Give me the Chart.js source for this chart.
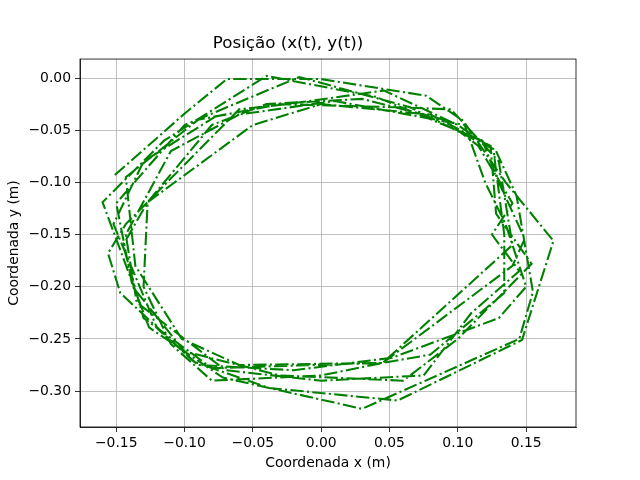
<!DOCTYPE html>
<html>
<head>
<meta charset="utf-8">
<script src="https://cdn.jsdelivr.net/npm/chart.js@4.4.1/dist/chart.umd.min.js"></script>
<style>
html,body{margin:0;padding:0;background:#fff;}
#wrap{width:640px;height:480px;position:relative;}
</style>
</head>
<body>
<div id="wrap"><canvas id="c" width="640" height="480"></canvas></div>
<script>
const xValues = [
  -0.151,-0.099,-0.069,0.000,0.077,0.104,0.135,0.170,0.147,0.056,-0.038,-0.093,-0.147,-0.156,
  -0.143,-0.060,-0.025,0.046,0.100,0.128,0.143,0.155,0.145,0.030,-0.072,-0.126,
  -0.160,-0.115,-0.040,0.040,0.118,0.130,0.149,0.140,0.045,-0.080,-0.130,-0.145,
  -0.127,-0.050,0.000,0.080,0.124,0.128,0.154,0.100,0.060,-0.030,-0.100,-0.138,-0.150,
  -0.100,-0.016,0.065,0.126,0.134,0.134,0.080,0.045,-0.060,-0.102,-0.136,-0.143,
  -0.090,-0.030,0.055,0.095,0.130,0.140,0.045,0.000,-0.080,-0.110,-0.130,-0.127,-0.080,-0.040,
  0.030,0.090,0.115,0.140,0.125,0.145,0.110,0.075,0.000,-0.070,-0.095,-0.135,-0.143,-0.110,-0.060,
  0.010,0.105,0.120,0.135,0.150,0.130,0.052,-0.020,-0.090,-0.120,-0.152,-0.130,-0.075
];
const yValues = [
  -0.093,-0.033,-0.001,-0.001,-0.017,-0.041,-0.100,-0.156,-0.251,-0.309,-0.297,-0.272,-0.206,-0.168,
  -0.140,-0.030,-0.025,-0.012,-0.045,-0.070,-0.113,-0.205,-0.250,-0.317,-0.287,-0.239,
  -0.119,-0.060,0.002,-0.018,-0.060,-0.100,-0.154,-0.180,-0.273,-0.278,-0.230,-0.160,
  -0.119,-0.045,-0.025,-0.035,-0.065,-0.130,-0.178,-0.250,-0.290,-0.285,-0.262,-0.200,-0.120,
  -0.045,0.001,-0.028,-0.068,-0.150,-0.206,-0.265,-0.273,-0.275,-0.250,-0.180,-0.095,
  -0.040,-0.025,-0.028,-0.030,-0.080,-0.160,-0.273,-0.285,-0.290,-0.255,-0.200,-0.119,-0.045,-0.025,
  -0.020,-0.040,-0.065,-0.120,-0.150,-0.185,-0.225,-0.285,-0.290,-0.280,-0.255,-0.215,-0.150,-0.070,-0.035,
  -0.022,-0.045,-0.100,-0.140,-0.200,-0.230,-0.268,-0.280,-0.275,-0.240,-0.140,-0.080,-0.035
];
const xTicks = [-0.15,-0.10,-0.05,0.00,0.05,0.10,0.15];
const yTicks = [-0.30,-0.25,-0.20,-0.15,-0.10,-0.05,0.00];
const titleText = 'Posição (x(t), y(t))';
const xLabel = 'Coordenada x (m)';
const yLabel = 'Coordenada y (m)';

const points = xValues.map((x,i)=>({x:x,y:yValues[i]}));
const fmt = v => { const s = Math.abs(v).toFixed(2); return (v < -1e-9 ? '\u2212' : '') + s; };
const FONT = 'DejaVu Sans';

const frame = {
  id:'frame',
  afterDatasetsDraw(chart){
    const a = chart.chartArea, ctx = chart.ctx;
    ctx.save();
    ctx.strokeStyle = '#000';
    ctx.lineWidth = 0.8;
    ctx.strokeRect(a.left, a.top, a.right-a.left, a.bottom-a.top);
    ctx.restore();
  }
};

new Chart(document.getElementById('c'), {
  type:'scatter',
  data:{datasets:[{
    data:points,
    showLine:true,
    borderColor:'#008000',
    borderWidth:2.08,
    borderDash:[13.3,3.3,2.1,3.3],
    pointRadius:0,
    tension:0,
    fill:false
  }]},
  options:{
    responsive:false,
    devicePixelRatio:1,
    animation:false,
    layout:{padding:{left:0,right:64,top:0,bottom:0}},
    plugins:{
      legend:{display:false},
      tooltip:{enabled:false},
      title:{display:true,text:titleText,color:'#000',
        font:{family:FONT,size:16.7,weight:'normal',lineHeight:1.2},
        padding:{top:34,bottom:5}}
    },
    scales:{
      x:{type:'linear',min:-0.1765,max:0.1865,
        afterBuildTicks(s){ s.ticks = xTicks.map(v=>({value:v})); },
        afterFit(s){ s.height = 53; },
        grid:{color:'#b0b0b0',lineWidth:0.8,tickColor:'#000',tickLength:5,drawTicks:true},
        border:{display:true,color:'#000',width:0.8},
        ticks:{color:'#000',font:{family:FONT,size:13.9},padding:3,maxRotation:0,autoSkip:false,
          callback:v=>fmt(v)},
        title:{display:true,text:xLabel,color:'#000',font:{family:FONT,size:13.9,lineHeight:1.2},padding:{top:0,bottom:8}}
      },
      y:{type:'linear',min:-0.3344,max:0.0182,
        afterBuildTicks(s){ s.ticks = yTicks.map(v=>({value:v})); },
        afterFit(s){ s.width = 80; },
        grid:{color:'#b0b0b0',lineWidth:0.8,tickColor:'#000',tickLength:5,drawTicks:true},
        border:{display:true,color:'#000',width:0.8},
        ticks:{color:'#000',font:{family:FONT,size:13.9},padding:4,autoSkip:false,
          callback:v=>fmt(v)},
        title:{display:true,text:yLabel,color:'#000',font:{family:FONT,size:13.9,lineHeight:1.2},padding:{top:6,bottom:0}}
      }
    }
  },
  plugins:[frame]
});
</script>
</body>
</html>
